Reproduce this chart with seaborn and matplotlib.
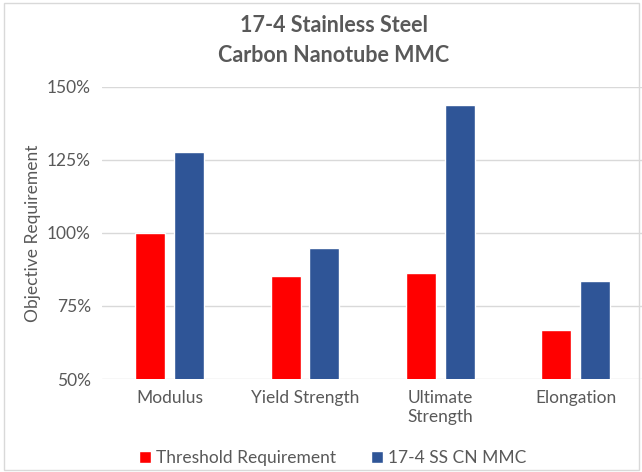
import matplotlib
matplotlib.use("Agg")
import matplotlib.pyplot as plt
import seaborn as sns
import pandas as pd
from matplotlib.ticker import FuncFormatter

categories = ["Modulus", "Yield Strength", "Ultimate\nStrength", "Elongation"]
series_names = ["Threshold Requirement", "17-4 SS CN MMC"]
threshold = [100.0, 85.3, 86.2, 66.7]
mmc = [127.8, 94.7, 143.9, 83.4]
yticks = [50, 75, 100, 125, 150]

df = pd.DataFrame({
    "category": categories * 2,
    "series": [series_names[0]] * 4 + [series_names[1]] * 4,
    "value": threshold + mmc,
})

sns.set_theme(style="white")
plt.rcParams["font.family"] = ["Lato", "DejaVu Sans"]
txt = "#595959"

fig = plt.figure(figsize=(6.42, 4.72), dpi=100)
ax = fig.add_axes([0.159, 0.197, 0.843, 0.619])

sns.barplot(data=df, x="category", y="value", hue="series",
            palette=["#ff0000", "#2f5597"], width=0.572, gap=0.22,
            saturation=1, ax=ax, legend=True)

ax.set_ylim(50, 150)
ax.set_yticks(yticks)
ax.yaxis.set_major_formatter(FuncFormatter(lambda v, p: f"{v:.0f}%"))
ax.grid(axis="y", color="#d9d9d9", linewidth=1)
ax.set_axisbelow(True)
for s in ax.spines.values():
    s.set_visible(False)
ax.tick_params(axis="both", length=0, labelsize=12.5, labelcolor=txt, pad=8)
ax.set_xlabel("")
ax.set_ylabel("Objective Requirement", fontsize=12.5, color=txt, labelpad=4)

handles, labels = ax.get_legend_handles_labels()
ax.get_legend().remove()
fig.legend(handles, labels, loc="center", bbox_to_anchor=(0.518, 0.03),
           ncol=2, frameon=False, fontsize=12.5, labelcolor=txt,
           handlelength=0.7, handleheight=0.7, handletextpad=0.3,
           columnspacing=2.0)

fig.text(0.52, 0.945, "17-4 Stainless Steel", ha="center", va="center",
         fontsize=15.5, fontweight="bold", color=txt)
fig.text(0.52, 0.882, "Carbon Nanotube MMC", ha="center", va="center",
         fontsize=15.5, fontweight="bold", color=txt)

fig.patches.append(plt.Rectangle((0.006, 0.004), 0.99, 0.99, transform=fig.transFigure,
                                 fill=False, edgecolor="#d9d9d9", linewidth=1))

fig.savefig("out.png", dpi=100)
